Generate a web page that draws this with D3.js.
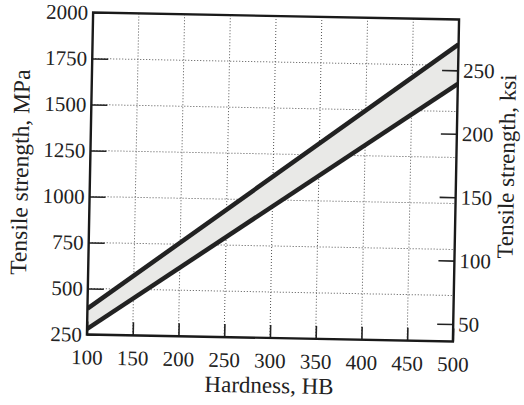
<!DOCTYPE html>
<html>
<head>
<meta charset="utf-8">
<script src="https://cdn.jsdelivr.net/npm/d3@7"></script>
<style>
  html, body { margin: 0; padding: 0; background: #fff; }
  svg text { font-family: "Liberation Serif", "DejaVu Serif", serif; fill: #222; }
</style>
</head>
<body>
<div id="chart"></div>
<script>
// Data
const hbTicks = [100, 150, 200, 250, 300, 350, 400, 450, 500];
const mpaTicks = [250, 500, 750, 1000, 1250, 1500, 1750, 2000];
const ksiTicks = [50, 100, 150, 200, 250];
const bandHB = [100, 500];
const upperTS = [390, 1865];
const lowerTS = [280, 1650];

const MPA_PER_KSI = 6.895;

const width = 524, height = 405;
const plot = { left: 90, right: 456, top: 16, bottom: 338 };

const svg = d3.select("#chart")
  .append("svg")
  .attr("width", width)
  .attr("height", height);

// the scan is tilted a little clockwise
const g = svg.append("g")
  .attr("transform", "rotate(1.1, 273, 177)");

const x = d3.scaleLinear()
  .domain([100, 500])
  .range([plot.left, plot.right]);

const y = d3.scaleLinear()
  .domain([250, 2000])
  .range([plot.bottom, plot.top]);

const yK = d3.scaleLinear()
  .domain([250 / MPA_PER_KSI, 2000 / MPA_PER_KSI])
  .range([plot.bottom, plot.top]);

// dotted grid
g.append("g")
  .selectAll("line")
  .data(mpaTicks.slice(1, -1))
  .join("line")
  .attr("x1", plot.left).attr("x2", plot.right)
  .attr("y1", d => y(d)).attr("y2", d => y(d))
  .attr("stroke", "#555").attr("stroke-width", 1)
  .attr("stroke-dasharray", "1,2");

g.append("g")
  .selectAll("line")
  .data(hbTicks.slice(1, -1))
  .join("line")
  .attr("x1", d => x(d)).attr("x2", d => x(d))
  .attr("y1", plot.top).attr("y2", plot.bottom)
  .attr("stroke", "#555").attr("stroke-width", 1)
  .attr("stroke-dasharray", "1,2");

// band between the two lines
svg.append("defs").append("clipPath").attr("id", "clip")
  .append("rect")
  .attr("x", plot.left).attr("y", plot.top)
  .attr("width", plot.right - plot.left).attr("height", plot.bottom - plot.top);

const bandData = bandHB.map((h, i) => ({ hb: h, lo: lowerTS[i], hi: upperTS[i] }));

const area = d3.area()
  .x(d => x(d.hb))
  .y0(d => y(d.lo))
  .y1(d => y(d.hi));

const bandG = g.append("g").attr("clip-path", "url(#clip)");

bandG.append("path")
  .datum(bandData)
  .attr("fill", "#e9e9e7")
  .attr("d", area);

const lineHi = d3.line().x(d => x(d.hb)).y(d => y(d.hi));
const lineLo = d3.line().x(d => x(d.hb)).y(d => y(d.lo));

[lineHi, lineLo].forEach(l => {
  bandG.append("path")
    .datum(bandData)
    .attr("fill", "none")
    .attr("stroke", "#222")
    .attr("stroke-width", 4.5)
    .attr("d", l);
});

// axes with inward ticks
const fmt = d3.format("d");

const bottomAxis = g.append("g")
  .attr("transform", `translate(0,${plot.bottom})`)
  .call(d3.axisBottom(x).tickValues(hbTicks).tickFormat(fmt).tickSize(-13).tickPadding(15));

const leftAxis = g.append("g")
  .attr("transform", `translate(${plot.left},0)`)
  .call(d3.axisLeft(y).tickValues(mpaTicks).tickFormat(fmt).tickSize(-16).tickPadding(5));

const rightAxis = g.append("g")
  .attr("transform", `translate(${plot.right},0)`)
  .call(d3.axisRight(yK).tickValues(ksiTicks).tickFormat(fmt).tickSize(-16).tickPadding(5));

[bottomAxis, leftAxis, rightAxis].forEach(a => {
  a.select(".domain").remove();
  a.selectAll(".tick line").attr("stroke", "#222").attr("stroke-width", 1.6);
  a.selectAll(".tick text")
    .attr("font-size", 21)
    .attr("fill", "#222")
    .style("font-family", "Liberation Serif, serif");
});

// frame
g.append("rect")
  .attr("x", plot.left).attr("y", plot.top)
  .attr("width", plot.right - plot.left).attr("height", plot.bottom - plot.top)
  .attr("fill", "none")
  .attr("stroke", "#1a1a1a")
  .attr("stroke-width", 2.4);

// titles
g.append("text")
  .attr("x", (plot.left + plot.right) / 2)
  .attr("y", 393)
  .attr("text-anchor", "middle")
  .attr("font-size", 23)
  .text("Hardness, HB");

g.append("text")
  .attr("transform", `translate(28,${(plot.top + plot.bottom) / 2}) rotate(-90)`)
  .attr("text-anchor", "middle")
  .attr("font-size", 23.5)
  .text("Tensile strength, MPa");

g.append("text")
  .attr("transform", `translate(514,162) rotate(-90)`)
  .attr("text-anchor", "middle")
  .attr("font-size", 23)
  .text("Tensile strength, ksi");
</script>
</body>
</html>
